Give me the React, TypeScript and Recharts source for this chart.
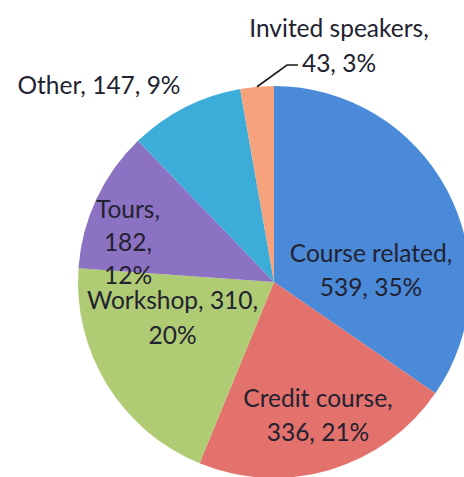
import React from 'react';
import { PieChart, Pie, Cell } from 'recharts';

const categories = ['Course related', 'Credit course', 'Workshop', 'Tours', 'Other', 'Invited speakers'];
const counts = [539, 336, 310, 182, 147, 43];
const percentLabels = ['35%', '21%', '20%', '12%', '9%', '3%'];
const colors = ['#4a8ad9', '#e3716c', '#afcb74', '#8c72c2', '#3cadd9', '#f6a27c'];

const data = categories.map((name, i) => ({ name, value: counts[i] }));

// label placement (offsets from pie centre) and line grouping
const LABEL_LAYOUT = [
  { dx: 97, dy: -12.5, lh: 34.5, groups: [[0], [1, 2]] },
  { dx: 44, dy: 132.5, lh: 34.5, groups: [[0], [1, 2]] },
  { dx: -101.5, dy: 35, lh: 34.5, groups: [[0, 1], [2]] },
  { dx: -146, dy: -41, lh: 33, groups: [[0], [1], [2]] },
  { dx: -175, dy: -198, lh: 34.5, groups: [[0, 1, 2]] },
  { dx: 65, dy: -237, lh: 34.5, groups: [[0], [1, 2]] },
];

const FONT = 'Lato, "Open Sans", sans-serif';

const renderLabel = (props: any) => {
  const { cx, cy, midAngle, outerRadius, index } = props;
  const layout = LABEL_LAYOUT[index];
  const parts = [categories[index] + ',', counts[index] + ',', percentLabels[index]];
  const lines = layout.groups.map((g) => g.map((k) => parts[k]).join(' '));
  const x = cx + layout.dx;
  const yc = cy + layout.dy;
  const n = lines.length;
  const RAD = Math.PI / 180;
  let leader = null;
  if (index === 5) {
    const sx = cx + outerRadius * Math.cos(-midAngle * RAD);
    const sy = cy + outerRadius * Math.sin(-midAngle * RAD);
    leader = (
      <polyline
        points={`${sx},${sy} ${cx + 13},${cy - 217} ${cx + 24},${cy - 217}`}
        fill="none"
        stroke="#1a1a1a"
        strokeWidth={1.6}
      />
    );
  }
  return (
    <g key={`lbl-${index}`}>
      {leader}
      {lines.map((ln, i) => (
        <text
          key={i}
          x={x}
          y={yc + (i - (n - 1) / 2) * layout.lh}
          textAnchor="middle"
          dominantBaseline="central"
          fontFamily={FONT}
          fontSize={24.5}
          fill="#222230"
        >
          {ln}
        </text>
      ))}
    </g>
  );
};

export default function App() {
  return (
    <div style={{ position: 'absolute', left: 0, top: 0, width: 464, height: 477, background: '#fff' }}>
      <PieChart width={464} height={477}>
        <Pie
          data={data}
          dataKey="value"
          nameKey="name"
          cx={269}
          cy={277}
          outerRadius={196}
          startAngle={90}
          endAngle={-270}
          stroke="none"
          label={renderLabel}
          labelLine={false}
          isAnimationActive={false}
        >
          {data.map((d, i) => (
            <Cell key={d.name} fill={colors[i]} />
          ))}
        </Pie>
      </PieChart>
    </div>
  );
}
